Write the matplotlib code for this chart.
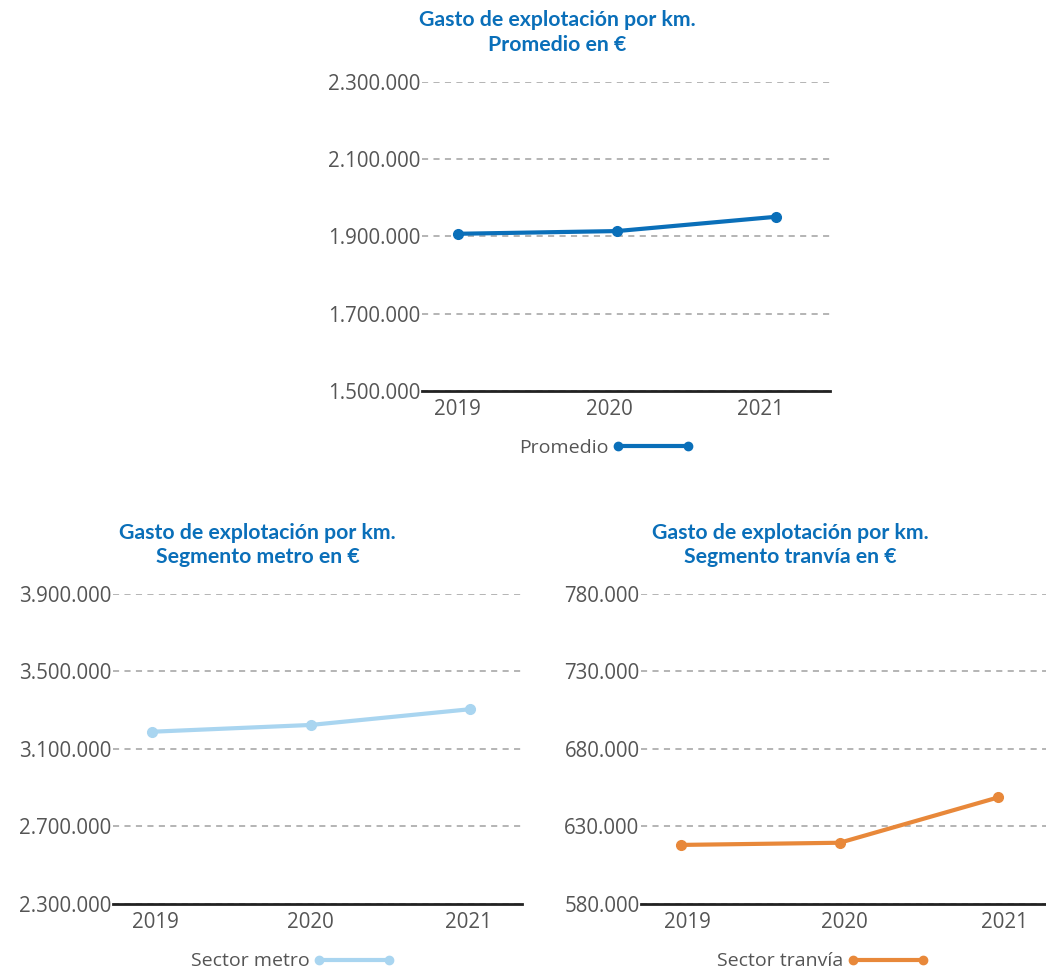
#import libraries
import matplotlib
matplotlib.use('Agg')
import matplotlib.pyplot as plt
from matplotlib.ticker import FuncFormatter

#data
years = ['2019', '2020', '2021']
promedio = [1907000, 1914000, 1951000]
metro = [3189000, 3224000, 3305000]
tranvia = [618100, 619500, 648800]

promedio_ticks = [1500000, 1700000, 1900000, 2100000, 2300000]
metro_ticks = [2300000, 2700000, 3100000, 3500000, 3900000]
tranvia_ticks = [580000, 630000, 680000, 730000, 780000]

blue = '#0A6FB9'
light_blue = '#A9D5F0'
orange = '#E8883A'
grey_txt = '#555555'

plt.rcParams['font.family'] = ['Open Sans', 'DejaVu Sans']

fig = plt.figure(figsize=(10.46, 9.76), dpi=100)

def miles(v, pos):
    return f'{int(v):,}'.replace(',', '.')

def draw(ax, values, ticks, color, label, xlim, label_pos, leg_x):
    x = list(range(len(values)))
    ax.plot(x, values, color=color, lw=3.0, marker='o', ms=7, label=label,
            solid_capstyle='round', zorder=3)
    ax.set_ylim(ticks[0], ticks[-1])
    ax.set_xlim(*xlim)
    ax.set_yticks(ticks)
    ax.yaxis.set_major_formatter(FuncFormatter(miles))
    ax.set_xticks(label_pos)
    ax.set_xticklabels(years)
    ax.grid(axis='y', color='#a0a0a0', ls=(0, (4, 3.5)), lw=1.1, zorder=0)
    for s in ['top', 'right', 'left']:
        ax.spines[s].set_visible(False)
    ax.spines['bottom'].set_color('#222222')
    ax.spines['bottom'].set_linewidth(2)
    ax.tick_params(axis='y', length=0, pad=1, labelsize=14.8, labelcolor=grey_txt)
    ax.tick_params(axis='x', length=0, pad=6, labelsize=14.8, labelcolor=grey_txt)
    leg = ax.legend(loc='center', bbox_to_anchor=(leg_x, -0.185), frameon=False,
                    markerfirst=False, numpoints=2, handlelength=4.2,
                    handletextpad=0.2, fontsize=14)
    for t in leg.get_texts():
        t.set_color(grey_txt)
    for h in leg.legend_handles:
        h.set_markersize(6)
        h.set_linewidth(3)

ax1 = fig.add_axes([0.4034, 0.5994, 0.3901, 0.3166])
draw(ax1, promedio, promedio_ticks, blue, 'Promedio', (-0.226, 2.34),
     [0, 0.95, 1.9], 0.453)

ax2 = fig.add_axes([0.108, 0.0738, 0.391, 0.3176])
draw(ax2, metro, metro_ticks, light_blue, 'Sector metro', (-0.245, 2.33),
     [0.02, 1.0, 1.99], 0.44)

ax3 = fig.add_axes([0.6128, 0.0738, 0.3872, 0.3176])
draw(ax3, tranvia, tranvia_ticks, orange, 'Sector tranvía', (-0.252, 2.30),
     [0.04, 1.03, 2.04], 0.45)

#titles
title_kw = dict(ha='center', va='center', color=blue, fontsize=15.3,
                fontweight='bold', linespacing=1.3, family=['Lato', 'DejaVu Sans'])
fig.text(557 / 1046, 1 - 32.5 / 976, 'Gasto de explotación por km.\nPromedio en €', **title_kw)
fig.text(257.5 / 1046, 1 - 545 / 976, 'Gasto de explotación por km.\nSegmento metro en €', **title_kw)
fig.text(790 / 1046, 1 - 545 / 976, 'Gasto de explotación por km.\nSegmento tranvía en €', **title_kw)

fig.savefig('out.png', dpi=100)
